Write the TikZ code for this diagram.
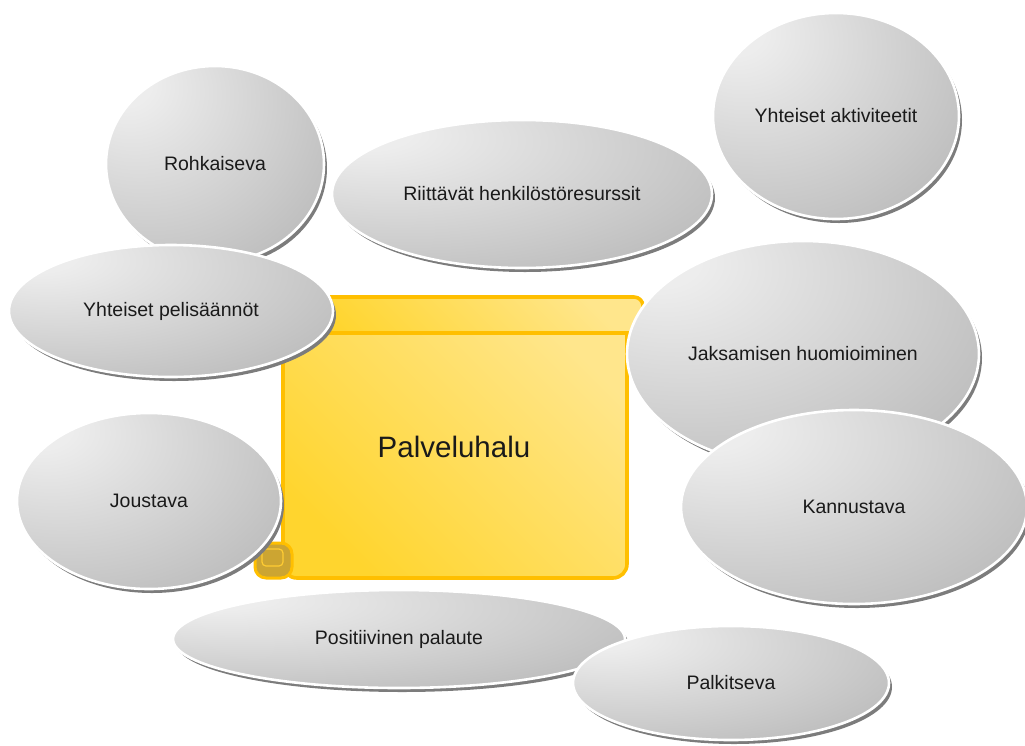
\documentclass[tikz,border=0pt]{standalone}
\usepackage{fontspec}
\setmainfont{Liberation Sans}
\usetikzlibrary{shapes.geometric,shadows}

\definecolor{bubA}{HTML}{EDEDED}
\definecolor{bubB}{HTML}{A7A7A7}
\definecolor{bubShadow}{HTML}{7C7C7C}
\definecolor{scrollEdge}{HTML}{FFBF00}
\definecolor{scrollLow}{HTML}{FFD52E}
\definecolor{scrollHigh}{HTML}{FFE68C}
\definecolor{curlFill}{HTML}{CCA532}
\definecolor{ink}{HTML}{1A1A1A}

% grey sphere-like shading, brightest towards the upper left
\pgfdeclareradialshading{bubbleshade}{\pgfpoint{-22bp}{22bp}}{%
  color(0bp)=(bubA); color(6bp)=(bubA); color(62bp)=(bubB); color(100bp)=(bubB)}

\tikzset{
  bubble/.style={ellipse, inner sep=0pt, shading=bubbleshade,
    draw=white, line width=2.6pt, text=ink,
    font=\fontsize{19.5}{23}\selectfont,
    drop shadow={opacity=1, fill=bubShadow, shadow xshift=3pt, shadow yshift=-4pt}},
  scrollpart/.style={draw=scrollEdge, line width=3.6pt, line join=round,
    top color=scrollHigh, bottom color=scrollLow, shading angle=-45},
}

\begin{document}
\begin{tikzpicture}[x=1pt, y=-1pt]
  \useasboundingbox (0,0) rectangle (1025,745);

  % central scroll
  \path[scrollpart, rounded corners=14pt] (283,310) rectangle (627,578);
  \path[scrollpart, rounded corners=9pt] (283,297) rectangle (643,333);
  \path[draw=scrollEdge, line width=3pt, fill=curlFill, rounded corners=11pt]
    (255,543) rectangle (292,578);
  \path[draw=scrollEdge!80!white, line width=1.2pt, rounded corners=4pt]
    (262,549) rectangle (283,566);
  \node[font=\fontsize{29.5}{34}\selectfont, text=ink] (title) at (454,447) {Palveluhalu};

  % surrounding ellipses
  \node[bubble, minimum width=218pt, minimum height=196pt] (rohk) at (215,164) {Rohkaiseva};
  \node[bubble, minimum width=380pt, minimum height=148pt] (riit) at (522,194) {Riittävät henkilöstöresurssit};
  \node[bubble, minimum width=246pt, minimum height=206pt] (akti) at (836,116) {Yhteiset aktiviteetit};
  \node[bubble, minimum width=324pt, minimum height=132pt] (peli) at (171,311) {Yhteiset pelisäännöt};
  \node[bubble, minimum width=352pt, minimum height=226pt] (jaks) at (803,354) {Jaksamisen huomioiminen};
  \node[bubble, minimum width=346pt, minimum height=194pt] (kann) at (854,507) {Kannustava};
  \node[bubble, minimum width=264pt, minimum height=176pt] (jous) at (149,501) {Joustava};
  \node[bubble, minimum width=452pt, minimum height=98pt] (posi) at (399,639) {Positiivinen palaute};
  \node[bubble, minimum width=316pt, minimum height=114pt] (palk) at (731,683) {Palkitseva};
\end{tikzpicture}
\end{document}
